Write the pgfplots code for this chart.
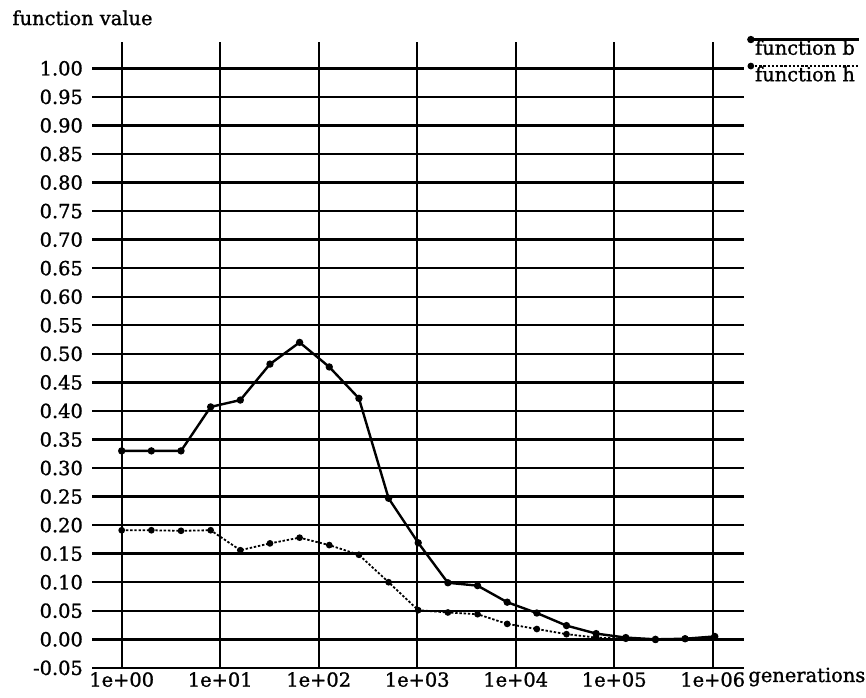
\documentclass[border=0pt]{standalone}
\usepackage{fontspec}
\setmainfont[FakeBold=1.2]{DejaVu Serif}
\usepackage{pgfplots}
\usepackage{pgfplotstable}
\pgfplotsset{compat=1.18}

% mean function value after 2^k generations
\pgfplotstableread{
gen      b      h
1        0.330  0.191
2        0.330  0.191
4        0.330  0.190
8        0.407  0.191
16       0.419  0.156
32       0.482  0.168
64       0.520  0.178
128      0.477  0.165
256      0.422  0.148
512      0.247  0.100
1024     0.169  0.051
2048     0.099  0.047
4096     0.094  0.044
8192     0.065  0.027
16384    0.046  0.018
32768    0.024  0.009
65536    0.010  0.003
131072   0.003  0.001
262144   0.000  -0.001
524288   0.001  0.001
1048576  0.005  0.004
}\gendata

\begin{document}
\begin{tikzpicture}[font=\fontsize{9.7pt}{11.6pt}\selectfont]
\useasboundingbox (-46.03pt,-14.58pt) rectangle (386.98pt,333.93pt);
\begin{axis}[
  at={(0pt,0pt)}, anchor=south west,
  scale only axis, width=326.2pt, height=312.9pt,
  xmode=log, log basis x=10,
  xmin=0.5, xmax=2.1e6, ymin=-0.05, ymax=1.046,
  xtick={1,10,100,1000,10000,100000,1000000},
  xticklabels={1e+00,1e+01,1e+02,1e+03,1e+04,1e+05,1e+06},
  ytick={-0.05,0,0.05,0.10,0.15,0.20,0.25,0.30,0.35,0.40,0.45,0.50,0.55,0.60,0.65,0.70,0.75,0.80,0.85,0.90,0.95,1.00},
  yticklabels={-0.05,0.00,0.05,0.10,0.15,0.20,0.25,0.30,0.35,0.40,0.45,0.50,0.55,0.60,0.65,0.70,0.75,0.80,0.85,0.90,0.95,1.00},
  xminorticks=false, yminorticks=false,
  grid=major,
  major grid style={black, line width=1.2pt},
  axis line style={draw=none},
  major tick length=0pt,
  xticklabel style={inner sep=0pt, anchor=north, yshift=-2pt},
  yticklabel style={inner sep=0pt, anchor=east, xshift=-4.4pt},
  clip=false,
  legend image code/.code={
    \path (0pt,0pt);
    \draw[#1, overlay, mark repeat=50, mark phase=1] plot coordinates {(-0.5pt,7.6pt) (53.6pt,7.6pt)};
  },
  legend style={at={(1.0095,1.0037)}, anchor=north west, draw=none, fill=none,
    inner sep=0pt, outer sep=0pt, row sep=5.15pt, column sep=1pt,
    nodes={inner sep=0pt, text height=7.5pt, text depth=0pt},
    cells={anchor=base west}},
]
\addplot[black, line width=1.2pt, mark=*, mark size=1.2pt] table[x=gen, y=b] {\gendata};
\addlegendentry{function b}
\addplot[black, line width=0.9pt, dash pattern=on 1.2pt off 0.9pt, mark=*, mark size=1.2pt, mark options={solid}] table[x=gen, y=h] {\gendata};
\addlegendentry{function h}
\end{axis}
\node[anchor=base west, inner sep=0pt] at (-40pt,321.4pt) {function value};
\node[anchor=base west, inner sep=0pt] at (328pt,-7.07pt) {generations};
\end{tikzpicture}
\end{document}
